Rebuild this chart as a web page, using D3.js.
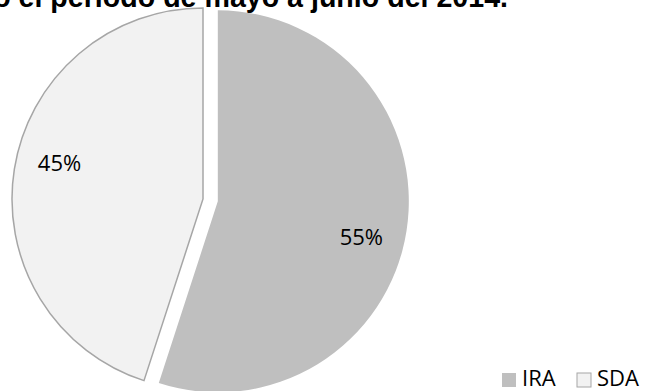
<!DOCTYPE html>
<html><head><meta charset="utf-8">
<script src="https://cdn.jsdelivr.net/npm/d3@7"></script>
<style>html,body{margin:0;padding:0;background:#fff;overflow:hidden}</style>
</head><body>
<svg id="c" width="645" height="391"></svg>
<script>
const categories = ["IRA", "SDA"];
const values = [55, 45];
const labels = ["55%", "45%"];
const colors = ["#bfbfbf", "#f2f2f2"];
const strokes = ["none", "#a6a6a6"];
const explode = [15, 0];
const titleText = "Casos registrados por tipo de enfermedad en todo el periodo de mayo a junio del 2014.";

const svg = d3.select("#c");
svg.append("text").attr("x", 508).attr("y", 7).attr("text-anchor", "end")
  .attr("font-family", "Liberation Sans, Arial, sans-serif").attr("font-weight", "bold")
  .attr("font-size", 28.6).attr("fill", "#000").text(titleText);

const cx = 203, cy = 199, r = 191;
const pie = d3.pie().sort(null).value(d => d);
const arcs = pie(values);
const arc = d3.arc().innerRadius(0).outerRadius(r);
const labelR = r * 0.775;
const labelRot = 0.09;

const g = svg.append("g").attr("transform", `translate(${cx},${cy})`);
arcs.forEach((a, i) => {
  const mid = (a.startAngle + a.endAngle) / 2;
  const dx = Math.sin(mid) * explode[i], dy = -Math.cos(mid) * explode[i];
  const sg = g.append("g").attr("transform", `translate(${dx},${dy})`);
  sg.append("path").attr("d", arc(a)).attr("fill", colors[i])
    .attr("stroke", strokes[i]).attr("stroke-width", 1.5);
  const la = mid + labelRot;
  sg.append("text").attr("x", Math.sin(la) * labelR).attr("y", -Math.cos(la) * labelR)
    .attr("text-anchor", "middle").attr("dy", "0.36em")
    .attr("font-family", "Open Sans, sans-serif")
    .attr("font-size", 22).attr("fill", "#000").text(labels[i]);
});

const legend = svg.append("g");
const lx = [502, 577];
categories.forEach((cat, i) => {
  legend.append("rect").attr("x", lx[i]).attr("y", 373).attr("width", 14).attr("height", 14)
    .attr("fill", colors[i]).attr("stroke", strokes[i] === "none" ? "none" : strokes[i]).attr("stroke-width", 1);
  legend.append("text").attr("x", lx[i] + 20).attr("y", 386)
    .attr("font-family", "Open Sans, sans-serif").attr("font-size", 22).attr("fill", "#000").text(cat);
});
</script>
</body></html>
